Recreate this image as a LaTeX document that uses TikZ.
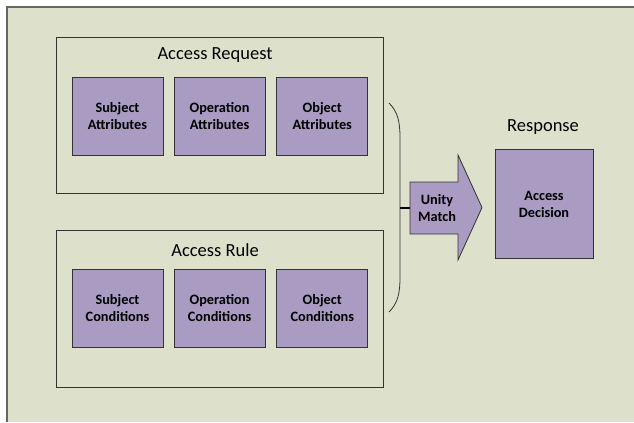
\documentclass[tikz,border=0pt]{standalone}
\usepackage{fontspec}
\setmainfont{Carlito}
\definecolor{bgc}{HTML}{DDE1CC}
\definecolor{boxc}{HTML}{A99BC1}
\definecolor{edgec}{HTML}{333333}
\begin{document}
\begin{tikzpicture}[x=1bp,y=-1bp,
  panel/.style={draw=edgec,line width=0.9bp},
  item/.style={draw=edgec,fill=boxc,line width=0.9bp,minimum width=91bp,minimum height=78bp,
    inner sep=0pt,align=center,font=\fontsize{14.3bp}{17bp}\selectfont\bfseries},
  title/.style={font=\fontsize{18.5bp}{21bp}\selectfont,inner sep=0pt}]
\useasboundingbox (0,0) rectangle (634,422);
\fill[white] (0,0) rectangle (634,422);
\fill[bgc] (7,7) rectangle (634,422);
\draw[gray!80!black,line width=1.2bp] (7,422) -- (7,7) -- (634,7);
% panels
\draw[panel] (56,37) rectangle (383,193);
\draw[panel] (56,230) rectangle (383,387);
\node[title] (treq) at (215,55) {Access Request};
\node[title] (trule) at (215,250) {Access Rule};
\node[item] (sa) at (117.5,116) {Subject\\Attributes};
\node[item] (oa) at (219.6,116) {Operation\\Attributes};
\node[item] (ba) at (322.3,116) {Object\\Attributes};
\node[item] (sc) at (117.5,308.3) {Subject\\Conditions};
\node[item] (oc) at (219.6,308.3) {Operation\\Conditions};
\node[item] (bc) at (322.3,308.3) {Object\\Conditions};
% brace
\coordinate (bt) at (389,103);
\coordinate (bm) at (400,208);
\coordinate (bb) at (389,312);
\draw[edgec,line width=0.8bp] (bt) .. controls (398,112) and (400,122) .. (400,138) -- (400,277)
  .. controls (400,293) and (398,303) .. (bb);
% arrow
\draw[edgec,fill=boxc,line width=0.8bp] (410,182) -- (458,182) -- (458,155) -- (482,207.5) -- (458,260) -- (458,234) -- (410,234) -- cycle;
\node[font=\fontsize{14.3bp}{17bp}\selectfont\bfseries,align=center,inner sep=0pt] (um) at (437,208) {Unity\\Match};
\coordinate (aw) at (410,208);
\draw[black,line width=1.6bp] (bm) -- (aw);
% response
\node[title] (tresp) at (543,127) {Response};
\node[item,minimum width=98bp,minimum height=109bp] (ad) at (544,204) {Access\\Decision};
\end{tikzpicture}
\end{document}
